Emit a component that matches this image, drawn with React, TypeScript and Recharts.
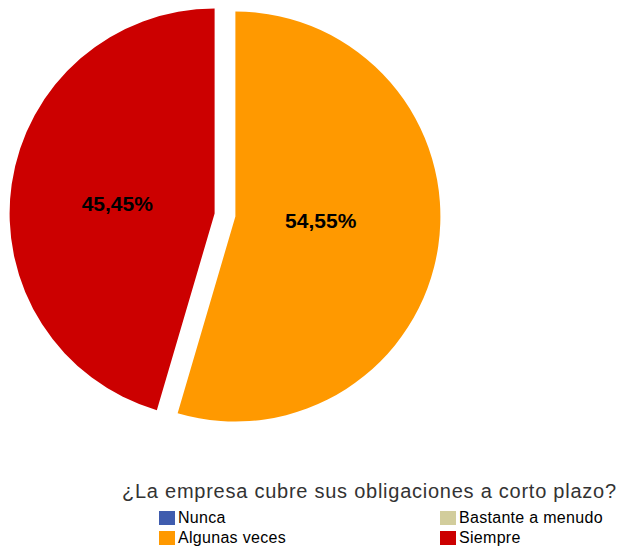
import { PieChart, Pie, Cell, Sector } from "recharts"

const categories = ["Nunca", "Bastante a menudo", "Algunas veces", "Siempre"]
const counts = [0, 0, 6, 5]
const colors = ["#3f5cae", "#d2cd9c", "#ff9900", "#cc0000"]
const title = "¿La empresa cubre sus obligaciones a corto plazo?"

const data = categories.map((name, i) => ({ name, value: counts[i] }))

const RAD = Math.PI / 180
const EXPLODE = 10.5
const FONT = "'Liberation Sans', Arial, sans-serif"

function ExplodedSector(props: any) {
  const { cx, cy, midAngle } = props
  const dx = EXPLODE * Math.cos(-midAngle * RAD)
  const dy = EXPLODE * Math.sin(-midAngle * RAD)
  return <Sector {...props} cx={cx + dx} cy={cy + dy} stroke="none" />
}

function renderLabel(props: any) {
  const { cx, cy, midAngle, outerRadius, percent, value } = props
  if (!value) return null
  const r = EXPLODE + outerRadius * 0.45
  // labels sit a bit flatter and to the left, like the source chart
  const x = cx + r * Math.cos(-midAngle * RAD) - 6
  const y = cy + r * Math.sin(-midAngle * RAD) * 0.6 - 3
  const txt = (percent * 100).toFixed(2).replace(".", ",") + "%"
  return (
    <text x={x} y={y} textAnchor="middle" dominantBaseline="central" fill="#000" fontFamily={FONT} fontWeight="bold" fontSize={21}>
      {txt}
    </text>
  )
}

export default function App() {
  // legend: two columns, row-major
  const legendCols = [159, 440]
  const legendRows = [510, 530]
  return (
    <div style={{ position: "absolute", left: 0, top: 0, width: 621, height: 548, background: "#fff" }}>
      <PieChart width={621} height={548} margin={{ top: 0, right: 0, bottom: 0, left: 0 }}>
        <Pie
          data={data}
          dataKey="value"
          nameKey="name"
          cx={225}
          cy={215}
          outerRadius={205}
          startAngle={90}
          endAngle={-270}
          shape={ExplodedSector}
          label={renderLabel}
          labelLine={false}
          isAnimationActive={false}
        >
          {data.map((d, i) => (
            <Cell key={d.name} fill={colors[i]} />
          ))}
        </Pie>
      </PieChart>
      <div
        style={{
          position: "absolute",
          left: 122,
          top: 479,
          fontFamily: FONT,
          fontSize: 20,
          letterSpacing: 0.75,
          color: "#333",
          whiteSpace: "nowrap",
          lineHeight: "24px",
        }}
      >
        {title}
      </div>
      {categories.map((c, i) => (
        <div
          key={c}
          style={{
            position: "absolute",
            left: legendCols[i % 2],
            top: legendRows[Math.floor(i / 2)],
            display: "flex",
            alignItems: "center",
            fontFamily: FONT,
            fontSize: 16,
            letterSpacing: 0.3,
            color: "#000",
            whiteSpace: "nowrap",
            lineHeight: "15px",
          }}
        >
          <span style={{ display: "inline-block", width: 16, height: 14, background: colors[i], marginRight: 3 }} />
          {c}
        </div>
      ))}
    </div>
  )
}
